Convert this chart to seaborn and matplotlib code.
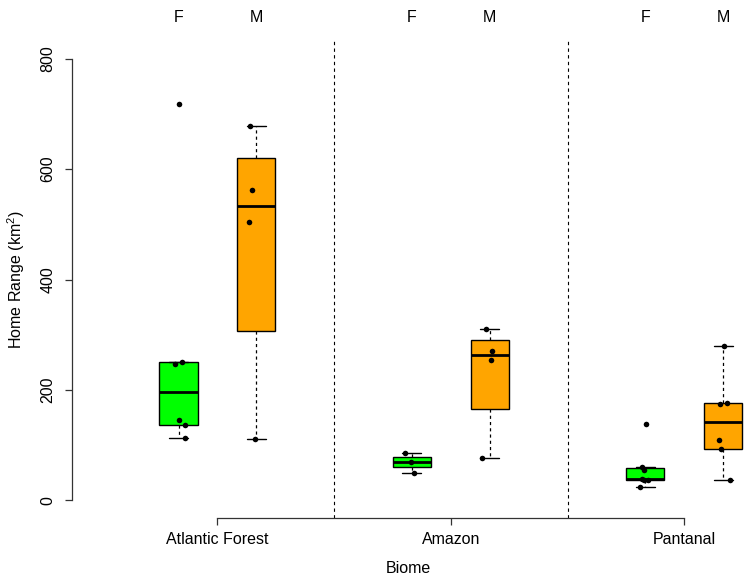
import numpy as np
import pandas as pd
import seaborn as sns
import matplotlib.pyplot as plt

# -- Home range por bioma e sexo -- #

biomes = ["Atlantic Forest", "Amazon", "Pantanal"]
sexes = ["F", "M"]

atlantic_f = [718, 250, 247, 145, 136, 113]
atlantic_m = [678, 563, 504, 111]
amazon_f = [86, 70, 50]
amazon_m = [310, 271, 255, 76]
pantanal_f = [139, 61, 55, 38, 37, 36, 25]
pantanal_m = [279, 177, 175, 110, 93, 37]

groups = [(atlantic_f, atlantic_m), (amazon_f, amazon_m), (pantanal_f, pantanal_m)]
colors = {"F": "#00FF00", "M": "#FFA500"}

rows = []
for i, (biome, pair) in enumerate(zip(biomes, groups)):
    for j, (sex, vals) in enumerate(zip(sexes, pair)):
        for v in vals:
            rows.append({"biome": biome, "sex": sex, "value": v, "pos": 3 * i + 1 + j})
df = pd.DataFrame(rows)


def tukey_stats(x, coef=1.5):
    # mesmas regras do boxplot do R (fivenum + hinges)
    x = np.sort(np.asarray(x, dtype=float))
    n = len(x)
    n4 = np.floor((n + 3) / 2) / 2
    d = np.array([1, n4, (n + 1) / 2, n + 1 - n4, n]) - 1
    fn = 0.5 * (x[np.floor(d).astype(int)] + x[np.ceil(d).astype(int)])
    iqr = fn[3] - fn[1]
    inside = x[(x >= fn[1] - coef * iqr) & (x <= fn[3] + coef * iqr)]
    return {"med": fn[2], "q1": fn[1], "q3": fn[3],
            "whislo": inside.min(), "whishi": inside.max(), "fliers": []}


sns.set_theme(style="white")
plt.rcParams["font.family"] = ["Liberation Sans", "DejaVu Sans"]
plt.rcParams["mathtext.default"] = "regular"
plt.rcParams["text.color"] = "black"
plt.rcParams["axes.labelcolor"] = "black"

fig = plt.figure(figsize=(7.44, 5.78), dpi=100)
W, H = 744, 578
ax = fig.add_axes([72 / W, (H - 518) / H, (W - 72) / W, (518 - 41) / H])

# caixas
stats, positions, facecols = [], [], []
for (pos, sex), g in df.groupby(["pos", "sex"]):
    stats.append(tukey_stats(g["value"]))
    positions.append(pos)
    facecols.append(colors[sex])

bp = ax.bxp(stats, positions=positions, widths=0.49, capwidths=0.245,
            patch_artist=True, showfliers=False,
            boxprops=dict(edgecolor="black", linewidth=1),
            whiskerprops=dict(color="black", linewidth=0.9, linestyle=(0, (2.5, 2.5))),
            capprops=dict(color="black", linewidth=1),
            medianprops=dict(color="black", linewidth=2))
for patch, c in zip(bp["boxes"], facecols):
    patch.set_facecolor(c)

# pontos
np.random.seed(3)
sns.stripplot(data=df, x="pos", y="value", native_scale=True, color="black",
              size=4, jitter=0.1, ax=ax, zorder=5)

# separadores entre biomas
for xv in [3, 6]:
    ax.axvline(xv, color="black", linewidth=0.8, linestyle=(0, (3, 3)))

ax.set_xlim((72 - 100.7) / 77.8, (W - 100.7) / 77.8)
ax.set_ylim(-32, 832)

for side in ["top", "right"]:
    ax.spines[side].set_visible(False)
ax.spines["left"].set_bounds(0, 800)
ax.spines["bottom"].set_bounds(1.5, 7.5)
for side in ["left", "bottom"]:
    ax.spines[side].set_color("#333333")
    ax.spines[side].set_linewidth(0.9)

ax.set_yticks([0, 200, 400, 600, 800])
ax.set_xticks([1.5, 4.5, 7.5])
ax.set_xticklabels(biomes)
ax.tick_params(axis="both", direction="out", length=5, width=0.9, color="#333333",
               labelsize=11.5, labelcolor="black", left=True, bottom=True)
ax.tick_params(axis="y", labelrotation=90, pad=7)
ax.tick_params(axis="x", pad=5)
for t in ax.get_yticklabels():
    t.set_va("center")

ax.set_xlabel("Biome", fontsize=11.5, labelpad=10, color="black")
ax.set_ylabel("Home Range (km$^2$)", fontsize=11.5, color="black")
ax.yaxis.set_label_coords((27 - 72) / (W - 72), 0.5)

# rótulos F / M no topo
for i in range(len(biomes)):
    for j, sex in enumerate(sexes):
        ax.text(3 * i + 1 + j, (518 - 17) / 477, sex, transform=ax.get_xaxis_transform(),
                ha="center", va="center", fontsize=11.5, color="black")

fig.savefig("out.png", dpi=100)
